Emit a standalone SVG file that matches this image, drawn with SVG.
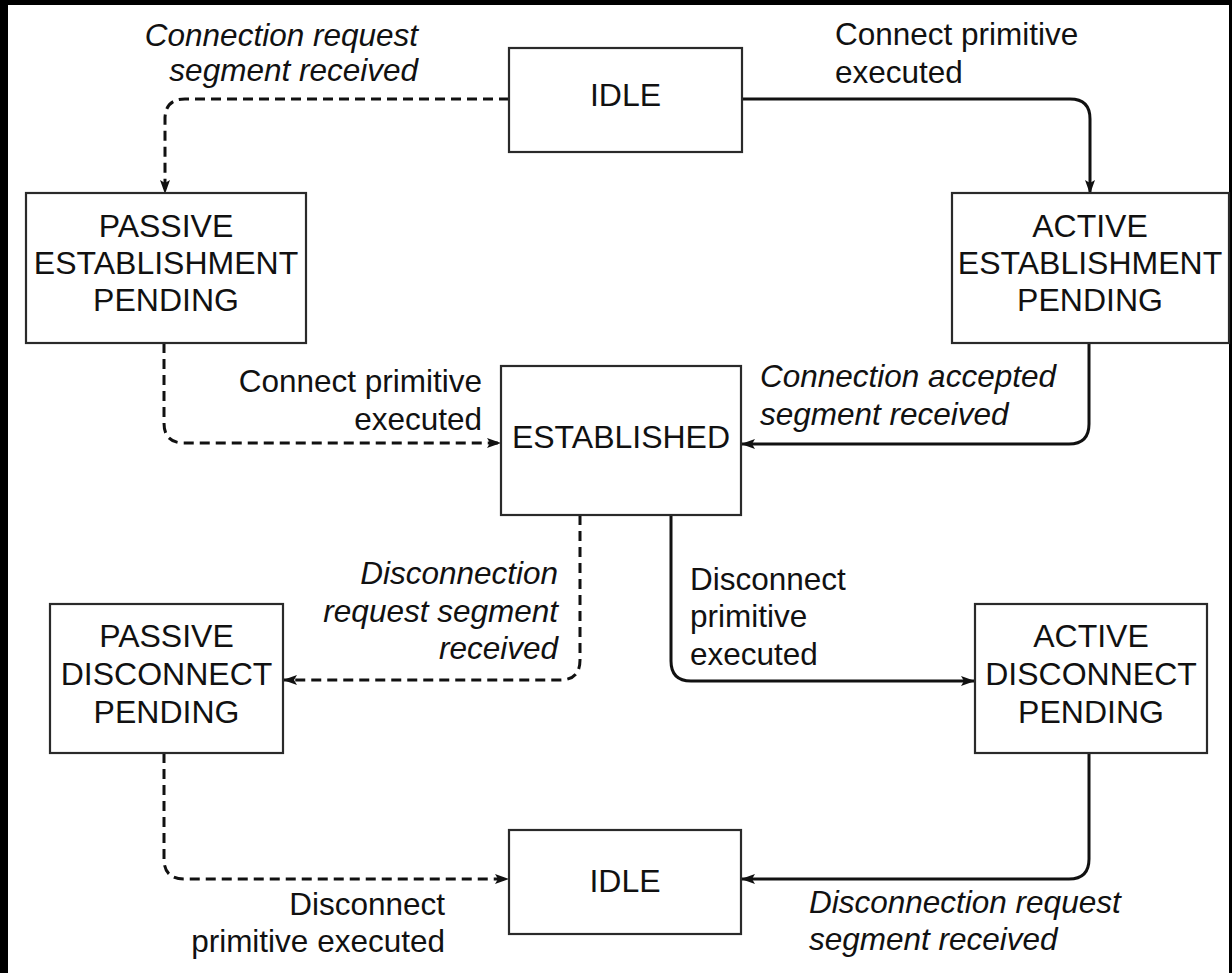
<svg xmlns="http://www.w3.org/2000/svg" width="1232" height="973" viewBox="0 0 1232 973">
  <style>
    .box { fill: #fff; stroke: #2a2a2a; stroke-width: 2.2; }
    .state { font-family: "Liberation Sans", Arial, sans-serif; font-size: 32px; fill: #111; text-anchor: middle; }
    .lbl { font-family: "Liberation Sans", Arial, sans-serif; font-size: 31.5px; fill: #111; }
    .it { font-style: italic; }
    .end { text-anchor: end; }
    .edge { fill: none; stroke: #111; stroke-width: 3; }
    .dash { stroke-dasharray: 10 6; }
  </style>
  <defs>
    <marker id="arrow" viewBox="0 0 14 10" refX="13" refY="5" markerWidth="14" markerHeight="10" markerUnits="userSpaceOnUse" orient="auto">
      <path d="M0,0 L14,5 L0,10 L3,5 Z" fill="#111"/>
    </marker>
  </defs>

  <!-- frame -->
  <rect x="0" y="0" width="1232" height="973" fill="#000"/>
  <rect x="8" y="5" width="1221" height="968" fill="#fff"/>

  <!-- transitions -->
  <g id="connectors">
    <path class="edge dash" d="M509,99 H185 Q165,99 165,119 V193" marker-end="url(#arrow)"/>
    <path class="edge" d="M742,99 H1070 Q1090,99 1090,119 V193" marker-end="url(#arrow)"/>
    <path class="edge dash" d="M164,343 V423 Q164,443 184,443 H500" marker-end="url(#arrow)"/>
    <path class="edge" d="M1089,343 V424 Q1089,444 1069,444 H742" marker-end="url(#arrow)"/>
    <path class="edge dash" d="M580,515 V660 Q580,680 560,680 H284" marker-end="url(#arrow)"/>
    <path class="edge" d="M671,515 V661 Q671,681 691,681 H974" marker-end="url(#arrow)"/>
    <path class="edge dash" d="M164,753 V859 Q164,879 184,879 H508" marker-end="url(#arrow)"/>
    <path class="edge" d="M1089,753 V859 Q1089,879 1069,879 H742" marker-end="url(#arrow)"/>

    <text class="lbl it end" x="418" y="46">Connection request</text>
    <text class="lbl it end" x="418" y="81">segment received</text>
    <text class="lbl" x="835" y="45">Connect primitive</text>
    <text class="lbl" x="835" y="83">executed</text>
    <text class="lbl end" x="482" y="392">Connect primitive</text>
    <text class="lbl end" x="482" y="430">executed</text>
    <text class="lbl it" x="760" y="387">Connection accepted</text>
    <text class="lbl it" x="760" y="425">segment received</text>
    <text class="lbl it end" x="558" y="584">Disconnection</text>
    <text class="lbl it end" x="558" y="622">request segment</text>
    <text class="lbl it end" x="558" y="659">received</text>
    <text class="lbl" x="690" y="590">Disconnect</text>
    <text class="lbl" x="690" y="627">primitive</text>
    <text class="lbl" x="690" y="665">executed</text>
    <text class="lbl end" x="445" y="915">Disconnect</text>
    <text class="lbl end" x="445" y="952">primitive executed</text>
    <text class="lbl it" x="809" y="913">Disconnection request</text>
    <text class="lbl it" x="809" y="950">segment received</text>
  </g>

  <!-- states -->
  <g id="idle-top">
    <rect class="box" x="509" y="48" width="233" height="104"/>
    <text class="state" x="625.5" y="106">IDLE</text>
  </g>
  <g id="passive-establishment-pending">
    <rect class="box" x="26" y="193" width="280" height="150"/>
    <text class="state" x="166" y="237">PASSIVE</text>
    <text class="state" x="166" y="274">ESTABLISHMENT</text>
    <text class="state" x="166" y="311">PENDING</text>
  </g>
  <g id="active-establishment-pending">
    <rect class="box" x="952" y="193" width="277" height="150"/>
    <text class="state" x="1090" y="237">ACTIVE</text>
    <text class="state" x="1090" y="274">ESTABLISHMENT</text>
    <text class="state" x="1090" y="311">PENDING</text>
  </g>
  <g id="established">
    <rect class="box" x="501" y="366" width="240" height="149"/>
    <text class="state" x="621" y="448">ESTABLISHED</text>
  </g>
  <g id="passive-disconnect-pending">
    <rect class="box" x="50" y="604" width="233" height="149"/>
    <text class="state" x="166.5" y="647">PASSIVE</text>
    <text class="state" x="166.5" y="685">DISCONNECT</text>
    <text class="state" x="166.5" y="723">PENDING</text>
  </g>
  <g id="active-disconnect-pending">
    <rect class="box" x="975" y="604" width="232" height="149"/>
    <text class="state" x="1091" y="647">ACTIVE</text>
    <text class="state" x="1091" y="685">DISCONNECT</text>
    <text class="state" x="1091" y="723">PENDING</text>
  </g>
  <g id="idle-bottom">
    <rect class="box" x="509" y="830" width="232" height="104"/>
    <text class="state" x="625" y="892">IDLE</text>
  </g>
</svg>
